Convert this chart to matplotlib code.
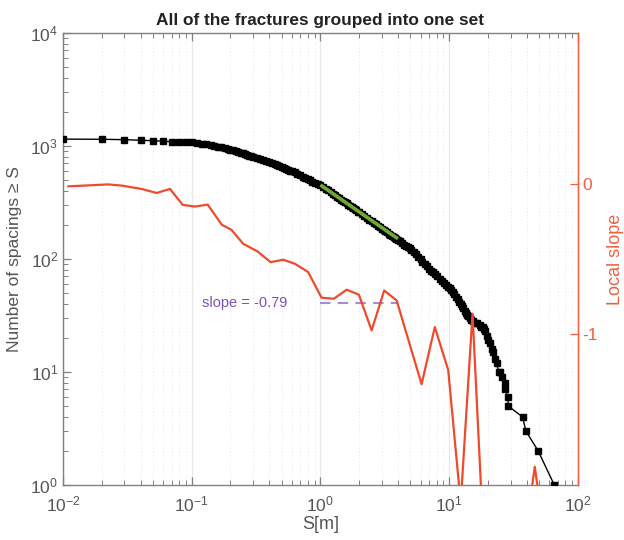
import matplotlib.pyplot as plt
import matplotlib.ticker as mticker

plt.rcParams['font.family'] = ['Liberation Sans', 'DejaVu Sans']

# cumulative spacing counts
spacing = [0.01, 0.02, 0.03, 0.04, 0.05, 0.06, 0.07, 0.08, 0.09,
           0.10, 0.11, 0.12, 0.13, 0.14, 0.15, 0.16, 0.17, 0.18, 0.19,
           0.20, 0.21, 0.22, 0.23, 0.24, 0.25, 0.26, 0.27, 0.28, 0.29,
           0.30, 0.32, 0.34, 0.36, 0.38, 0.40, 0.42, 0.44, 0.46, 0.48,
           0.50, 0.52, 0.54, 0.56, 0.58, 0.60, 0.63, 0.66, 0.70, 0.73,
           0.76, 0.80, 0.83, 0.86, 0.90, 0.95,
           1.00, 1.05, 1.10, 1.15, 1.20, 1.25, 1.30, 1.35, 1.40, 1.45,
           1.50, 1.55, 1.60, 1.65, 1.70, 1.75, 1.80, 1.85, 1.90, 1.95,
           2.00, 2.10, 2.20, 2.30, 2.40, 2.50, 2.60, 2.70, 2.80, 2.90,
           3.00, 3.10, 3.20, 3.30, 3.40, 3.50, 3.60, 3.70, 3.80, 3.90,
           4.00, 4.15, 4.30, 4.45, 4.60, 4.80, 4.95, 5.10, 5.30, 5.50,
           5.75, 6.00, 6.20, 6.45, 6.70, 6.95, 7.20, 7.50, 7.80, 8.10,
           8.50, 8.85, 9.20, 9.50, 9.80, 10.1, 10.4, 10.7, 11.0, 11.4,
           11.7, 12.0, 12.3, 12.6, 12.9, 13.2, 13.5, 13.8, 14.1, 14.5,
           14.8, 15.2, 15.9, 16.6, 17.3, 17.8, 18.2, 18.7, 19.1, 19.6,
           20.2, 20.8, 21.4, 22.0, 22.7, 23.4, 24.2, 24.8, 25.6, 27.0,
           27.2, 28.6, 28.8, 37.2, 39.5, 49.2, 65.6]
count = [1150, 1147, 1137, 1123, 1114, 1101, 1092, 1085, 1080,
         1074, 1062, 1050, 1035, 1015, 998, 985, 972, 958, 942,
         928, 913, 898, 885, 872, 860, 848, 835, 822, 812,
         802, 784, 767, 750, 732, 715, 700, 686, 673, 660,
         648, 636, 624, 613, 605, 598, 584, 570, 550, 536,
         523, 506, 495, 484, 470, 458,
         450, 432, 418, 404, 390, 378, 366, 355, 345, 336,
         327, 318, 310, 302, 295, 288, 281, 275, 269, 263,
         258, 248, 239, 230, 222, 215, 208, 202, 196, 190,
         186, 181, 176, 172, 168, 164, 160, 156, 153, 150,
         147, 143, 138, 134, 131, 127, 124, 120, 115, 110,
         105, 99, 95, 90, 86, 82, 79, 76, 73, 70,
         67, 64, 61, 59, 57, 55, 53, 51, 49, 46,
         44, 42, 40, 38, 37, 35, 33, 32, 31, 30,
         29, 28, 27, 27, 26, 25, 25, 24, 23, 21,
         19, 18, 16, 15, 13, 12, 10, 10, 9, 8,
         7, 6, 5, 4, 3, 2, 1]

# power-law fit between 1 and 4 m
fit_x = [1.0, 4.0]
fit_n = [452, 151]
fit_slope = -0.79

# local slope of the distribution
slope_x = [0.011, 0.0224, 0.0286, 0.0408, 0.0534, 0.0678, 0.0851, 0.106,
           0.133, 0.171, 0.204, 0.251, 0.325, 0.410, 0.514, 0.634, 0.803,
           1.02, 1.27, 1.60, 1.99, 2.50, 3.13, 3.91, 6.11, 7.74, 9.84,
           12.3, 15.2, 19.1, 26.6, 36.7, 46.3, 58.5, 72.0]
slope_val = [-0.018, -0.005, -0.013, -0.035, -0.062, -0.035, -0.141, -0.152,
             -0.139, -0.272, -0.307, -0.399, -0.450, -0.521, -0.505, -0.532,
             -0.587, -0.757, -0.764, -0.704, -0.737, -0.974, -0.709, -0.775,
             -1.331, -0.952, -1.238, -2.12, -0.863, -2.6, -3.0, -2.5,
             -1.879, -2.5, -3.0]

red = '#EF4A2C'
red_axis = '#F0603F'
gray = '#555555'
spine_gray = '#808080'

fig = plt.figure(figsize=(6.24, 5.4), dpi=100)
ax = fig.add_axes([0.101, 0.1019, 0.825, 0.837])

ax.set_xscale('log')
ax.set_yscale('log')
ax.set_xlim(1e-2, 1e2)
ax.set_ylim(1e0, 1e4)

ax.grid(True, which='major', axis='x', color='#e8e8e8', lw=0.9, ls='-')
ax.grid(True, which='minor', axis='x', color='#dcdcdc', lw=0.6, ls=(0, (1, 3)))
ax.set_axisbelow(True)

ax.plot(spacing, count, color='black', lw=1.0, marker='s', ms=3.8, zorder=3)
ax.plot(fit_x, fit_n, color='#6DAA35', lw=2.6, zorder=4, solid_capstyle='butt')

ax.xaxis.set_major_locator(mticker.LogLocator(base=10, numticks=10))
ax.xaxis.set_minor_locator(mticker.LogLocator(base=10, subs=range(2, 10), numticks=10))
ax.yaxis.set_major_locator(mticker.LogLocator(base=10, numticks=10))
ax.yaxis.set_minor_locator(mticker.LogLocator(base=10, subs=range(2, 10), numticks=10))
ax.xaxis.set_minor_formatter(mticker.NullFormatter())
ax.yaxis.set_minor_formatter(mticker.NullFormatter())

ax.tick_params(which='both', direction='in', top=True, right=False,
               colors=spine_gray, labelcolor=gray, labelsize=12.5)
ax.tick_params(which='major', length=6, width=0.9)
ax.tick_params(which='minor', length=3.5, width=0.7)
ax.tick_params(axis='x', pad=7)
for side in ['left', 'bottom', 'top']:
    ax.spines[side].set_color(spine_gray)
    ax.spines[side].set_linewidth(1.0)

ax.set_xlabel('S[m]', fontsize=13, color=gray, labelpad=1)
ax.set_ylabel('Number of spacings \u2265 S', fontsize=12.5, color=gray, labelpad=6)
ax.set_title('All of the fractures grouped into one set', fontsize=12.4,
             fontweight='bold', color='#222222', pad=6)

ax2 = ax.twinx()
ax2.set_ylim(-2, 1)
ax2.plot(slope_x, slope_val, color=red, lw=1.6, zorder=5)
ax2.plot(fit_x, [fit_slope, fit_slope], color='#A78BDB', lw=1.5,
         dashes=(5, 3.5), zorder=4)
ax2.text(0.12, fit_slope, 'slope = %.2f' % fit_slope, color='#7A52B3',
         fontsize=10.5, va='center', ha='left')

ax2.set_yticks([-1, 0])
ax2.set_yticklabels(['-1', '0'])
ax2.tick_params(axis='y', direction='in', length=6, width=0.9,
                colors=red_axis, labelsize=12.5)
ax2.spines['right'].set_color(red_axis)
ax2.spines['right'].set_linewidth(1.0)
for side in ['left', 'bottom', 'top']:
    ax2.spines[side].set_visible(False)
ax2.set_ylabel('Local slope', fontsize=13, color=red_axis, labelpad=6)

plt.savefig('out.png', dpi=100)
